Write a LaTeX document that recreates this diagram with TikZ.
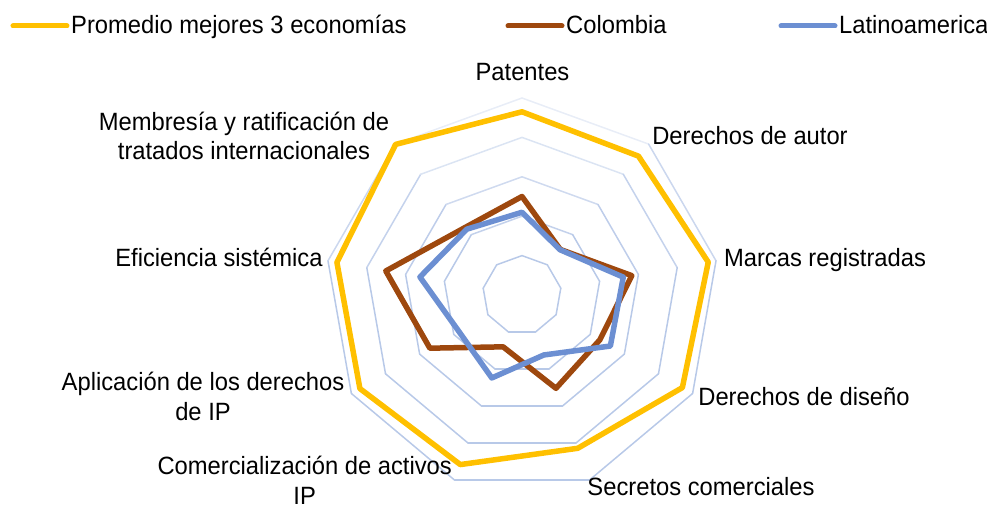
\documentclass[tikz,border=0pt]{standalone}
\usepackage{fontspec}
\setmainfont{Liberation Sans}[FakeStretch=0.95]
\usepackage{tikz}
\usetikzlibrary{positioning,calc}

\definecolor{promyellow}{RGB}{255,192,0}
\definecolor{colbrown}{RGB}{158,72,14}
\definecolor{latblue}{RGB}{108,143,210}
\definecolor{gridblue}{RGB}{184,201,232}

\begin{document}
\begin{tikzpicture}
	[   x=1pt, y=1pt,
	    series/.style={draw=#1,line width=5.5pt,line join=round},
	    lbl/.style={inner sep=0pt,font=\fontsize{25}{29.5}\selectfont,align=center},
	]
	\tikzset{grid line/.style={line width=1.5pt,line cap=round}}
	\def\rs{39.4}
	\useasboundingbox (-522,-213) rectangle (465,295);
	
	\foreach \r in {1,...,5}
	{
		\foreach \k in {0,...,8}
		{
			\pgfmathsetmacro\ymid{\r*\rs*(sin(90-40*\k)+sin(50-40*\k))/2}
			\pgfmathsetmacro\tone{min(100,max(10,100-(\ymid-40)*0.5))}
			\draw[grid line,draw=gridblue!\tone!white] ({90-40*\k}:{\r*\rs}) -- ({50-40*\k}:{\r*\rs});
		}
	}
	
	\foreach \v [count=\k from 0] in {4.65,4.60,4.80,4.70,4.14,4.58,4.75,4.77,4.99}
		\coordinate (prom-\k) at ({90-40*\k}:{\v*\rs});
	\foreach \v [count=\k from 0] in {2.50,1.51,2.83,2.28,2.52,1.40,2.70,3.51,2.24}
		\coordinate (col-\k) at ({90-40*\k}:{\v*\rs});
	\foreach \v [count=\k from 0] in {2.10,1.50,2.61,2.59,1.62,2.24,1.85,2.63,2.18}
		\coordinate (lat-\k) at ({90-40*\k}:{\v*\rs});
	
	\draw[series=promyellow] (prom-0) \foreach \k in {1,...,8}{ -- (prom-\k)} -- cycle;
	\draw[series=colbrown] (col-0) \foreach \k in {1,...,8}{ -- (col-\k)} -- cycle;
	\draw[series=latblue] (lat-0) \foreach \k in {1,...,8}{ -- (lat-\k)} -- cycle;
	
	\foreach \nm/\clr/\xa/\txt in {prom/promyellow/-509/Promedio mejores 3 economías,col/colbrown/-14/Colombia,lat/latblue/259/Latinoamerica}
	{
		\coordinate (\nm-a) at (\xa,269);
		\coordinate (\nm-b) at (\xa+54,269);
		\draw[series=\clr,line width=5pt,line cap=round] (\nm-a) -- (\nm-b);
		\node[lbl,anchor=base west] (\nm-leg) at (\xa+58,261.7) {\txt};
	}
	
	\node[lbl,anchor=base] (ax-pat) at (0.5,214.3) {Patentes};
	\node[lbl,anchor=base] (ax-aut) at (228,150) {Derechos de autor};
	\node[lbl,anchor=base] (ax-mar) at (303,28.3) {Marcas registradas};
	\node[lbl,anchor=base] (ax-dis) at (282,-110) {Derechos de diseño};
	\node[lbl,anchor=base] (ax-sec) at (179,-200) {Secretos comerciales};
	\node[lbl,anchor=base] (ax-com) at (-217.3,-209) {Comercialización de activos\\IP};
	\node[lbl,anchor=base] (ax-apl) at (-319,-125) {Aplicación de los derechos\\de IP};
	\node[lbl,anchor=base] (ax-efi) at (-303,28.3) {Eficiencia sistémica};
	\node[lbl,anchor=base] (ax-mem) at (-278,135) {Membresía y ratificación de\\tratados internacionales};
\end{tikzpicture}
\end{document}
